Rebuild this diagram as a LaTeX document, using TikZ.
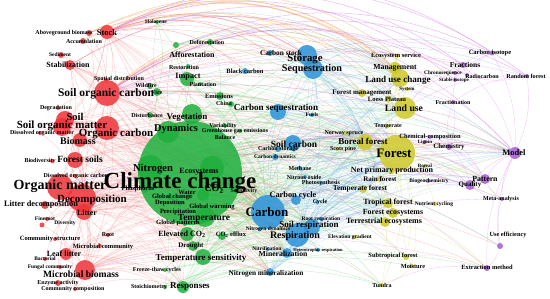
\documentclass[tikz,border=0pt]{standalone}
\usepackage{fontspec}
\setmainfont{Liberation Serif}
\pgfdeclarelayer{back}
\pgfdeclarelayer{bg}
\pgfdeclarelayer{fg}
\pgfsetlayers{back,bg,main,fg}
\definecolor{cR}{RGB}{238,50,55}
\definecolor{cG}{RGB}{30,175,60}
\definecolor{cB}{RGB}{40,145,215}
\definecolor{cY}{RGB}{205,200,40}
\definecolor{cP}{RGB}{165,90,215}
\definecolor{eR}{RGB}{245,120,120}
\definecolor{eG}{RGB}{90,210,100}
\definecolor{eB}{RGB}{100,170,230}
\definecolor{eY}{RGB}{215,215,80}
\definecolor{eP}{RGB}{215,120,235}
\definecolor{eO}{RGB}{245,165,80}
\tikzset{
  dot/.style={circle, inner sep=0pt, minimum size=#1, draw=none},
  kR/.style={fill=cR, fill opacity=0.85},
  kG/.style={fill=cG, fill opacity=0.85},
  kB/.style={fill=cB, fill opacity=0.85},
  kY/.style={fill=cY, fill opacity=0.85},
  kP/.style={fill=cP, fill opacity=0.85},
  lb/.style={font=\bfseries\fontsize{#1}{#1}\selectfont, inner sep=0pt, text=black},
  edg/.style={line width=0.35pt, draw opacity=0.4},
  thin edg/.style={line width=0.3pt, draw opacity=0.22},
  arc edg/.style={line width=0.5pt, draw opacity=0.5},
}
\newcommand\kwd[9]{%
  \node[dot=#4, k#5] (#1) at (#2,#3) {};
  \begin{pgfonlayer}{fg}\node[lb=#8] (#1-t) at (#6,#7) {#9};\end{pgfonlayer}}
\begin{document}
\begin{tikzpicture}[x=1pt,y=-1pt]
\begin{pgfonlayer}{back}
\fill[white] (0,0) rectangle (550,299);
\end{pgfonlayer}
\useasboundingbox (0,0) rectangle (550,299);
% ---- red cluster
\kwd{soc}{107}{93}{26}{R}{106}{94}{11.5}{Soil organic carbon}
\kwd{stock}{107}{32}{14}{R}{107}{33}{8.5}{Stock}
\kwd{agb}{89}{33}{6}{R}{64}{33}{6}{Aboveground biomass}
\kwd{accum}{83}{41}{6}{R}{84}{41}{6}{Accumulation}
\kwd{sed}{61}{55}{6}{R}{60}{55}{5.5}{Sediment}
\kwd{stab}{70}{65}{10}{R}{68}{65}{8}{Stabilization}
\kwd{spat}{106}{80}{4}{R}{119}{79}{6}{Spatial distribution}
\kwd{degr}{58}{108}{4}{R}{56}{108}{6}{Degradation}
\kwd{soil}{65}{120}{18}{R}{75}{117}{10.5}{Soil}
\kwd{som}{62}{127}{18}{R}{62}{126}{11}{Soil organic matter}
\kwd{dom}{40}{133}{4}{R}{42}{133}{6}{Dissolved organic matter}
\kwd{oc}{107}{128}{24}{R}{116}{134}{11}{Organic carbon}
\kwd{biomass}{80}{140}{14}{R}{78}{141}{10}{Biomass}
\kwd{biodiv}{52}{161}{4}{R}{40}{161}{6}{Biodiversity}
\kwd{fsoils}{75}{160}{16}{R}{80}{159}{9.5}{Forest soils}
\kwd{doc}{75}{176}{4}{R}{76}{176}{6}{Dissolved organic carbon}
\kwd{om}{60}{187}{26}{R}{60}{186}{14}{Organic matter}
\kwd{decomp}{82}{198}{28}{R}{92}{200}{11}{Decomposition}
\kwd{litdec}{45}{205}{8}{R}{41}{205}{8.3}{Litter decomposition}
\kwd{litter}{84}{212}{16}{R}{87}{213}{8}{Litter}
\kwd{fineroot}{47}{219}{4}{R}{45}{219}{5.5}{Fineroot}
\kwd{diversity}{42}{225}{5}{R}{65}{223}{5.5}{Diversity}
\kwd{root}{108}{235}{4}{R}{108}{235}{6}{Root}
\kwd{commstr}{55}{239}{4}{R}{50}{239}{6.5}{Community structure}
\kwd{microcomm}{100}{246}{4}{R}{103}{247}{6.5}{Microbial community}
\kwd{leaflit}{66}{254}{12}{R}{64}{254}{8}{Leaf litter}
\kwd{bact}{45}{259}{4}{R}{45}{259}{5.5}{Bacterial}
\kwd{fungal}{60}{267}{4}{R}{50}{267}{5.5}{Fungal community}
\kwd{mb}{85}{270}{20}{R}{81}{274}{9.6}{Microbial biomass}
\kwd{enzyme}{58}{283}{6}{R}{58}{283}{6}{Enzyme activity}
\kwd{commcomp}{75}{289}{4}{R}{73}{289}{6}{Community composition}
% ---- green cluster
\kwd{cc}{190}{173}{104}{G}{180}{183}{23}{Climate change}
\kwd{vege}{192}{114}{20}{G}{187}{117}{9}{Vegetation}
\kwd{dyn}{168}{132}{22}{G}{176}{129}{10.4}{Dynamics}
\kwd{nitro}{150}{168}{26}{G}{153}{169}{10.6}{Nitrogen}
\kwd{ecos}{212}{168}{24}{G}{199}{172}{8}{Ecosystems}
\kwd{holo}{157}{22}{4}{G}{156}{22}{5.5}{Holocene}
\kwd{affor}{176}{45}{6}{G}{192}{55}{8}{Afforestation}
\kwd{defor}{210}{42}{6}{G}{207}{42}{6}{Deforestation}
\kwd{resto}{188}{66}{4}{G}{184}{67}{6}{Restoration}
\kwd{impact}{187}{79}{14}{G}{188}{77}{8.2}{Impact}
\kwd{plant}{200}{84}{4}{G}{203}{84}{6}{Plantation}
\kwd{wild}{150}{86}{6}{G}{146}{85}{6}{Wildfire}
\kwd{fire}{157}{92}{8}{G}{157}{92}{6}{Fire}
\kwd{disturb}{150}{115}{6}{G}{147}{115}{6}{Disturbance}
\kwd{emis}{220}{96}{8}{G}{219}{96}{6.5}{Emissions}
\kwd{china}{231}{104}{6}{G}{224}{103}{6}{China}
\kwd{variab}{225}{126}{4}{G}{223}{126}{6}{Variability}
\kwd{ghg}{240}{131}{4}{G}{235}{131}{6}{Greenhouse gas emissions}
\kwd{balance}{225}{137}{4}{G}{225}{137}{6}{Balance}
\kwd{phos}{145}{189}{8}{G}{138}{189}{6.5}{Phosphorus}
\kwd{co2}{203}{195}{12}{G}{214}{189}{10}{CO\textsubscript{2}}
\kwd{sensit}{222}{191}{4}{G}{244}{191}{6}{Sensitivity}
\kwd{water}{190}{196}{6}{G}{187}{192}{6.5}{Water}
\kwd{glch}{170}{197}{6}{G}{172}{197}{6.5}{Global change}
\kwd{depos}{180}{204}{4}{G}{170}{203}{6.5}{Deposition}
\kwd{glwarm}{215}{205}{4}{G}{212}{207}{6.5}{Global warming}
\kwd{precip}{165}{212}{4}{G}{178}{212}{6.5}{Precipitation}
\kwd{temp}{205}{217}{20}{G}{204}{218}{9.4}{Temperature}
\kwd{glpat}{185}{224}{4}{G}{178}{223}{6.5}{Global patterns}
\kwd{elev}{187}{234}{14}{G}{182}{234}{8}{Elevated CO\textsubscript{2}}
\kwd{co2eff}{222}{236}{8}{G}{231}{235}{6.5}{CO\textsubscript{2} efflux}
\kwd{drought}{193}{246}{10}{G}{191}{246}{7}{Drought}
\kwd{tempsens}{203}{257}{16}{G}{201}{258}{9}{Temperature sensitivity}
\kwd{freeze}{165}{270}{4}{G}{157}{270}{6}{Freeze-thaw cycles}
\kwd{stoich}{165}{287}{4}{G}{149}{287}{6}{Stoichiometry}
\kwd{respg}{183}{287}{12}{G}{190}{287}{9}{Responses}
% ---- blue cluster
\kwd{cstock}{270}{53}{6}{B}{281}{53}{7.3}{Carbon stock}
\kwd{storage}{307}{55}{20}{B}{305}{59}{10.7}{Storage}
\kwd{seq}{313}{69}{20}{B}{312}{69}{10.2}{Sequestration}
\kwd{bc}{245}{71}{6}{B}{245}{71}{6.5}{Black carbon}
\kwd{cseq}{278}{112}{16}{B}{276}{108}{9.1}{Carbon sequestration}
\kwd{fuels}{312}{115}{4}{B}{312}{115}{5.5}{Fuels}
\kwd{scarb}{293}{143}{16}{B}{294}{144}{9.5}{Soil carbon}
\kwd{cstor}{278}{149}{6}{B}{278}{149}{6}{Carbon storage}
\kwd{cdyn}{275}{157}{6}{B}{275}{157}{5.5}{Carbon dynamics}
\kwd{methane}{300}{168}{4}{B}{300}{168}{6}{Methane}
\kwd{n2o}{305}{177}{4}{B}{304}{177}{6}{Nitrous oxide}
\kwd{photo}{321}{183}{4}{B}{321}{183}{6}{Photosynthesis}
\kwd{ccycle}{296}{200}{10}{B}{293}{196}{8.3}{Carbon cycle}
\kwd{cycle}{317}{202}{4}{B}{320}{202}{6}{Cycle}
\kwd{carbon}{268}{212}{34}{B}{267}{212}{13}{Carbon}
\kwd{rootresp}{321}{219}{4}{B}{321}{219}{5.5}{Root respiration}
\kwd{sresp}{312}{227}{16}{B}{309}{225}{9}{Soil respiration}
\kwd{ndyn}{260}{229}{4}{B}{268}{229}{5.5}{Nitrogen dynamics}
\kwd{respir}{297}{235}{24}{B}{295}{236}{10}{Respiration}
\kwd{nitrif}{268}{249}{4}{B}{267}{249}{5.5}{Nitrification}
\kwd{hetresp}{318}{250}{4}{B}{318}{250}{4.5}{Heterotrophic respiration}
\kwd{mineral}{287}{253}{10}{B}{283}{254}{7.7}{Mineralization}
\kwd{nmin}{270}{272}{8}{B}{266}{274}{7.3}{Nitrogen mineralization}
% ---- yellow cluster
\kwd{forest}{397}{153}{36}{Y}{394}{153}{13}{Forest}
\kwd{boreal}{365}{142}{16}{Y}{363}{141}{9}{Boreal forest}
\kwd{norway}{345}{133}{4}{Y}{344}{133}{6}{Norway spruce}
\kwd{scots}{337}{149}{4}{Y}{343}{149}{6}{Scots pine}
\kwd{tempr}{388}{126}{4}{Y}{388}{126}{6}{Temperate}
\kwd{npp}{392}{171}{6}{Y}{392}{171}{8}{Net primary production}
\kwd{rain}{380}{179}{6}{Y}{380}{179}{7}{Rain forest}
\kwd{tempfor}{363}{189}{8}{Y}{360}{189}{7.5}{Temperate forest}
\kwd{lu}{405}{108}{22}{Y}{404}{108}{9.7}{Land use}
\kwd{loess}{388}{99}{6}{Y}{387}{99}{6.5}{Loess Plateau}
\kwd{fmgmt}{362}{93}{8}{Y}{362}{93}{7}{Forest management}
\kwd{system}{407}{89}{4}{Y}{407}{89}{5}{System}
\kwd{luc}{400}{78}{18}{Y}{398}{80}{9.1}{Land use change}
\kwd{mgmt}{395}{68}{12}{Y}{395}{68}{7.7}{Management}
\kwd{ess}{397}{56}{4}{Y}{396}{56}{6.5}{Ecosystem service}
\kwd{tropfor}{388}{203}{10}{Y}{388}{203}{7.9}{Tropical forest}
\kwd{forecos}{393}{213}{10}{Y}{393}{213}{7.9}{Forest ecosystems}
\kwd{terreco}{385}{222}{10}{Y}{384}{222}{8}{Terrestrial ecosystems}
\kwd{elevgrad}{355}{237}{4}{Y}{350}{237}{5.5}{Elevation gradient}
\kwd{subtrop}{406}{257}{6}{Y}{393}{256}{6.4}{Subtropical forest}
\kwd{moisture}{412}{266}{4}{Y}{413}{266}{6.3}{Moisture}
\kwd{tundra}{382}{285}{4}{Y}{382}{285}{6}{Tundra}
\kwd{borealb}{425}{166}{4}{Y}{425}{166}{5}{Boreal}
\kwd{nutcyc}{435}{204}{4}{Y}{434}{204}{5.5}{Nutrient cycling}
% ---- purple cluster
\kwd{model}{515}{153}{12}{P}{514}{153}{8.5}{Model}
\kwd{pattern}{485}{179}{10}{P}{485}{179}{7.8}{Pattern}
\kwd{quality}{470}{185}{10}{P}{470}{185}{7}{Quality}
\kwd{cisot}{492}{53}{5}{P}{490}{53}{6.5}{Carbon isotope}
\kwd{fract}{463}{65}{6}{P}{465}{65}{7.5}{Fractions}
\kwd{radio}{467}{75}{4}{P}{482}{76}{6}{Radiocarbon}
\kwd{stabiso}{455}{80}{4}{P}{454}{80}{5}{Stable isotope}
\kwd{chrono}{455}{73}{4}{P}{443}{73}{5.3}{Chronosequence}
\kwd{randf}{527}{76}{4}{P}{526}{76}{6.2}{Random forest}
\kwd{fractn}{453}{102}{4}{P}{453}{102}{6}{Fractionation}
\kwd{chemcomp}{430}{137}{4}{P}{430}{137}{6.4}{Chemical-composition}
\kwd{lignin}{425}{142}{4}{P}{425}{142}{5}{Lignin}
\kwd{chem}{449}{147}{6}{P}{449}{147}{7}{Chemistry}
\kwd{biogeo}{428}{181}{4}{P}{429}{181}{5.5}{Biogeochemistry}
\kwd{meta}{502}{199}{4}{P}{501}{199}{6}{Meta-analysis}
\kwd{useeff}{500}{246}{6}{P}{508}{235}{6.3}{Use efficiency}
\kwd{extr}{487}{268}{6}{P}{487}{267}{6.4}{Extraction method}
% ---- connectors
\begin{pgfonlayer}{bg}
% dense background mesh
\foreach \a in {soc,soil,som,oc,om,decomp,litter,mb,fsoils,biomass,leaflit,litdec,stab,stock}
  \foreach \b in {carbon,respir,sresp,temp,tempsens,nmin,mineral,forest,cc,nitro,ccycle,scarb,respg,elev,drought}
    \draw[thin edg, eR] (\a) to[bend left=12] (\b);
\foreach \a in {cc,temp,tempsens,elev,co2,nitro,dyn,vege,drought,respg,ecos,impact}
  \foreach \b in {carbon,respir,forest,sresp,boreal,tropfor,npp,lu,terreco,scarb,cseq,mineral}
    \draw[thin edg, eG] (\a) to[bend left=12] (\b);
\foreach \a in {carbon,respir,sresp,scarb,cseq,seq,storage,ccycle,mineral,nmin}
  \foreach \b in {forest,boreal,tropfor,terreco,npp,lu,luc,tempfor,model,pattern,forecos,rain}
    \draw[thin edg, eB] (\a) to[bend left=12] (\b);
% long arcs across the top
\foreach \a/\b in {stock/mgmt,stock/luc,stock/lu,stock/ess,stock/fmgmt,soc/mgmt,soc/ess,soc/luc,agb/luc,agb/mgmt,accum/mgmt,stab/luc,stock/loess,soc/fmgmt}
  \draw[arc edg, eO] (\a) to[bend left=33] (\b);
\foreach \a/\b in {cisot/stock,cisot/soc,fract/stock,fract/stab,randf/soc,randf/stock,radio/soc,stabiso/stock,model/stock,chrono/soc}
  \draw[arc edg, eP] (\a) to[bend right=30] (\b);
\foreach \a/\b in {stock/storage,stock/seq,stock/cstock,soc/storage,agb/storage,stock/bc}
  \draw[arc edg, eR] (\a) to[bend left=25] (\b);
\foreach \a/\b in {storage/mgmt,storage/luc,seq/ess,storage/ess,holo/luc,affor/luc,affor/mgmt,holo/storage}
  \draw[edg, eB] (\a) to[bend left=25] (\b);
% cluster connectors
\foreach \a/\b in {stock/soc,stock/oc,stock/soil,stock/som,stock/biomass,stock/stab,stock/cc,stock/carbon,stock/storage,stock/seq,stock/forest,agb/stock,agb/soc,agb/biomass,accum/soc,accum/stock,sed/stab,sed/soc,stab/soc,stab/som,stab/om,stab/oc,stab/decomp,stab/carbon,soc/som,soc/oc,soc/soil,soc/cc,soc/carbon,soc/lu,soc/forest,soc/storage,soc/seq,soc/decomp,soc/respir,soc/mb,soc/fsoils,soc/om,soc/model,soc/fract,spat/soc,spat/cc,degr/soil,degr/soc,soil/som,soil/oc,soil/cc,soil/carbon,soil/decomp,soil/mb,soil/litter,soil/respir,som/oc,som/om,som/decomp,som/cc,som/carbon,som/mb,som/fsoils,dom/oc,dom/doc,dom/som,oc/cc,oc/carbon,oc/decomp,oc/om,oc/forest,oc/seq,oc/respir,oc/mineral,biomass/cc,biomass/carbon,biomass/forest,biomass/tempsens,biomass/om,biodiv/fsoils,fsoils/cc,fsoils/decomp,fsoils/om,fsoils/forest,fsoils/carbon,doc/om,doc/decomp,om/decomp,om/cc,om/carbon,om/litter,om/mb,om/respir,om/temp,om/nmin,decomp/cc,decomp/litter,decomp/litdec,decomp/leaflit,decomp/mb,decomp/carbon,decomp/respir,decomp/nitro,decomp/temp,decomp/tempsens,decomp/mineral,decomp/nmin,decomp/chem,decomp/forest,decomp/model,litdec/litter,litdec/leaflit,litter/cc,litter/leaflit,litter/mb,litter/nitro,litter/chem,litter/forest,litter/respir,fineroot/litter,diversity/litter,root/decomp,root/cc,commstr/mb,microcomm/mb,microcomm/decomp,leaflit/mb,leaflit/decomp,leaflit/chem,leaflit/carbon,bact/mb,fungal/mb,mb/cc,mb/respir,mb/carbon,mb/sresp,mb/nmin,mb/tempsens,mb/mineral,mb/stoich,mb/enzyme,mb/commcomp,enzyme/decomp,commcomp/litter,mb/respg,leaflit/respg,litter/extr,decomp/useeff,om/quality,soc/pattern,soil/forest,som/respir,commcomp/respg,enzyme/nmin,bact/decomp,fungal/decomp,commstr/decomp,diversity/mb,fineroot/decomp,leaflit/stoich,mb/freeze,litter/tropfor,om/tundra,soc/subtrop}
  \draw[edg, eR] (\a) to[bend left=15] (\b);
\foreach \a/\b in {cc/carbon,cc/forest,cc/temp,cc/vege,cc/dyn,cc/nitro,cc/ecos,cc/impact,cc/storage,cc/seq,cc/cseq,cc/scarb,cc/respir,cc/sresp,cc/lu,cc/luc,cc/boreal,cc/model,cc/pattern,cc/tempsens,cc/elev,cc/co2,cc/drought,cc/emis,cc/affor,cc/defor,cc/holo,cc/fire,cc/disturb,cc/precip,cc/glwarm,cc/water,cc/respg,cc/freeze,cc/stoich,cc/phos,cc/ccycle,cc/npp,cc/tropfor,cc/terreco,cc/mgmt,cc/mineral,cc/nmin,cc/tempfor,cc/subtrop,cc/tundra,cc/meta,cc/useeff,vege/dyn,vege/impact,vege/fire,vege/disturb,vege/forest,vege/carbon,vege/temp,vege/boreal,vege/luc,vege/model,dyn/carbon,dyn/forest,dyn/nitro,dyn/temp,dyn/model,dyn/respir,impact/affor,impact/resto,impact/plant,impact/emis,impact/forest,impact/carbon,impact/luc,impact/lu,affor/defor,affor/resto,affor/seq,affor/storage,defor/emis,defor/forest,holo/fire,holo/vege,wild/fire,fire/disturb,fire/boreal,fire/forest,emis/china,emis/ghg,emis/cseq,emis/carbon,china/cseq,variab/cc,ghg/balance,ghg/carbon,ghg/forest,nitro/phos,nitro/carbon,nitro/temp,nitro/forest,nitro/respir,nitro/nmin,nitro/mineral,nitro/elev,nitro/co2,nitro/depos,nitro/stoich,ecos/carbon,ecos/temp,ecos/forest,ecos/co2,co2/elev,co2/temp,co2/carbon,co2/respir,co2/sresp,co2/co2eff,co2/photo,co2/forest,temp/respir,temp/sresp,temp/carbon,temp/tempsens,temp/mineral,temp/nmin,temp/forest,temp/precip,temp/drought,temp/glwarm,temp/model,temp/co2eff,temp/moisture,temp/elevgrad,temp/tundra,elev/carbon,elev/photo,elev/drought,tempsens/respir,tempsens/sresp,tempsens/carbon,tempsens/mineral,tempsens/hetresp,tempsens/forest,drought/forest,drought/tropfor,co2eff/sresp,freeze/nmin,freeze/respg,respg/temp,respg/carbon,respg/nmin,respg/respir,respg/extr,stoich/nmin,glwarm/carbon,glch/carbon,precip/respir,glpat/carbon,water/carbon,phos/carbon,respg/tundra,freeze/tundra,stoich/subtrop,respg/moisture}
  \draw[edg, eG] (\a) to[bend left=15] (\b);
\foreach \a/\b in {carbon/forest,carbon/respir,carbon/sresp,carbon/ccycle,carbon/scarb,carbon/cseq,carbon/storage,carbon/seq,carbon/mineral,carbon/nmin,carbon/ndyn,carbon/lu,carbon/luc,carbon/boreal,carbon/npp,carbon/tropfor,carbon/model,carbon/pattern,carbon/quality,carbon/chem,carbon/fract,carbon/tempfor,carbon/terreco,carbon/forecos,storage/seq,storage/cstock,storage/bc,storage/cseq,storage/forest,storage/lu,storage/luc,storage/mgmt,storage/fmgmt,storage/scarb,storage/randf,storage/cisot,seq/cseq,seq/scarb,seq/forest,seq/lu,seq/luc,seq/mgmt,seq/fuels,seq/bc,seq/boreal,seq/model,seq/respir,cseq/scarb,cseq/forest,cseq/lu,cseq/fuels,scarb/cstor,scarb/forest,scarb/lu,scarb/respir,scarb/boreal,cdyn/carbon,methane/respir,n2o/respir,photo/respir,ccycle/respir,ccycle/forest,cycle/carbon,respir/sresp,respir/mineral,respir/forest,respir/tempfor,respir/model,respir/hetresp,respir/rootresp,respir/elevgrad,sresp/rootresp,sresp/forest,sresp/tropfor,sresp/mineral,mineral/nitrif,mineral/nmin,mineral/forest,nmin/forest,nmin/tropfor,bc/fire,cstock/forest,seq/cstock,storage/fuels}
  \draw[edg, eB] (\a) to[bend left=15] (\b);
\foreach \a/\b in {forest/boreal,forest/lu,forest/luc,forest/mgmt,forest/fmgmt,forest/npp,forest/rain,forest/tempfor,forest/tropfor,forest/forecos,forest/terreco,forest/subtrop,forest/moisture,forest/tundra,forest/norway,forest/scots,forest/tempr,forest/loess,forest/model,forest/pattern,forest/quality,forest/chem,forest/meta,forest/biogeo,forest/nutcyc,forest/elevgrad,forest/borealb,forest/ess,forest/system,lu/luc,lu/mgmt,lu/loess,lu/fmgmt,lu/system,lu/ess,lu/fract,lu/model,luc/mgmt,luc/ess,luc/loess,luc/chrono,mgmt/fmgmt,mgmt/ess,boreal/norway,boreal/scots,boreal/npp,boreal/tundra,boreal/tempr,tropfor/forecos,tropfor/terreco,tropfor/rain,tropfor/subtrop,terreco/npp,terreco/model,npp/model,npp/pattern,subtrop/moisture,tempfor/terreco,moisture/tundra,rain/tropfor,terreco/extr,forecos/extr,subtrop/extr}
  \draw[edg, eY] (\a) to[bend left=15] (\b);
\foreach \a/\b in {model/pattern,model/quality,model/meta,model/useeff,model/extr,model/randf,model/chem,model/cisot,model/fract,pattern/quality,pattern/meta,pattern/chem,quality/chem,quality/meta,cisot/fract,cisot/radio,cisot/stabiso,fract/radio,fract/chrono,fract/stabiso,fract/fractn,radio/randf,radio/chrono,chem/chemcomp,chem/lignin,chem/fractn,chemcomp/lignin,extr/useeff,meta/useeff,randf/fractn,biogeo/pattern,model/soc,model/carbon,model/cc,pattern/carbon,quality/om,quality/soc,extr/mb,extr/soc,useeff/cc,meta/cc,randf/lu,randf/soc,cisot/soc,fractn/soc,fractn/chem,chrono/lu,stabiso/soc,lignin/decomp,chemcomp/litter,model/lu,meta/respg,extr/tundra,model/forest,pattern/forest,quality/forest,model/luc,pattern/lu,quality/decomp,model/om}
  \draw[edg, eP] (\a) to[bend right=15] (\b);
\end{pgfonlayer}
\end{tikzpicture}
\end{document}
